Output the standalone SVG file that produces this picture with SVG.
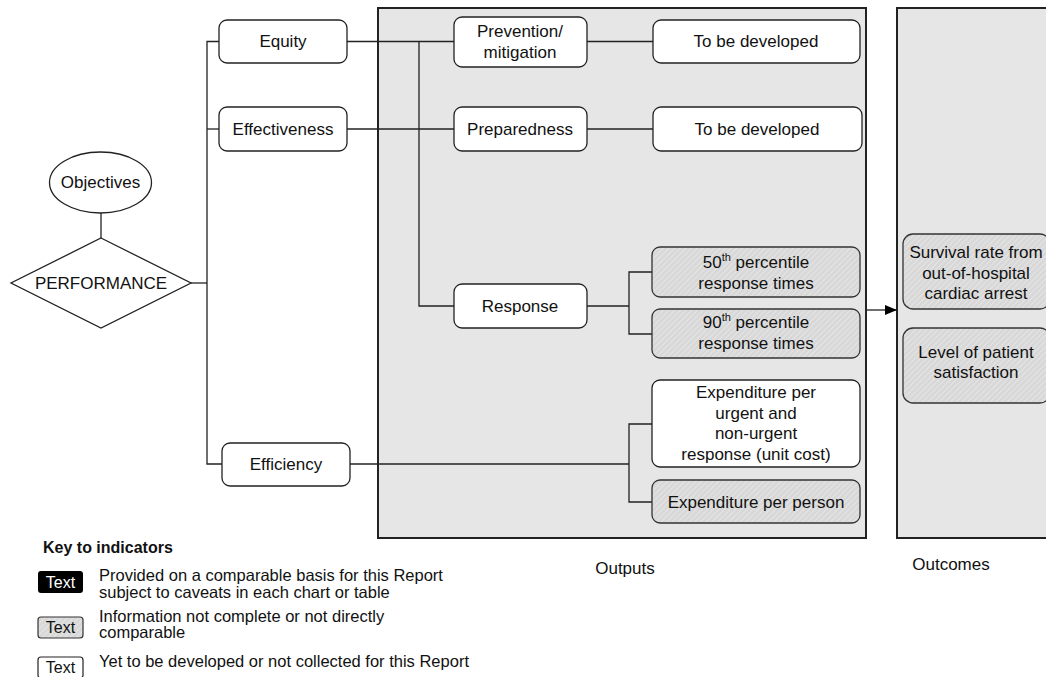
<svg xmlns="http://www.w3.org/2000/svg" width="1046" height="677" viewBox="0 0 1046 677">
<defs>
<pattern id="hatch" patternUnits="userSpaceOnUse" width="4" height="4" patternTransform="rotate(45)">
<rect width="4" height="4" fill="#d8d8d8"/>
<line x1="0" y1="0" x2="0" y2="4" stroke="#ececec" stroke-width="1.3"/>
</pattern>
<marker id="arr" markerWidth="12" markerHeight="10" refX="12" refY="5" orient="auto" markerUnits="userSpaceOnUse">
<path d="M0,0 L12,5 L0,10 Z" fill="#000"/>
</marker>
</defs>
<style>
text{font-family:"Liberation Sans",Arial,sans-serif;font-size:17px;fill:#111;text-anchor:middle}
.node{fill:#fff;stroke:#222;stroke-width:1.3}
.hat{fill:url(#hatch);stroke:#333;stroke-width:1.3}
.panel{fill:#e6e6e6;stroke:#222;stroke-width:2}
.ln{fill:none;stroke:#222;stroke-width:1.3}
.leg{font-size:16.5px;text-anchor:start}
.sup{font-size:11px}
</style>
<rect width="1046" height="677" fill="#fff"/>
<g id="panels">
<rect class="panel" x="378" y="8" width="488" height="530"/>
<rect class="panel" x="897" y="8" width="160" height="530"/>
<text x="625" y="574">Outputs</text>
<text x="951" y="570">Outcomes</text>
</g>
<g id="connectors">
<line class="ln" x1="101" y1="213" x2="101" y2="238"/>
<line class="ln" x1="191" y1="283" x2="207" y2="283"/>
<polyline class="ln" points="219,41.5 207,41.5 207,464 222,464"/>
<line class="ln" x1="207" y1="129" x2="219" y2="129"/>
<line class="ln" x1="347" y1="41.5" x2="454" y2="41.5"/>
<line class="ln" x1="347" y1="129" x2="454" y2="129"/>
<polyline class="ln" points="419,41.5 419,306 454,306"/>
<line class="ln" x1="587" y1="41.5" x2="653" y2="41.5"/>
<line class="ln" x1="587" y1="129" x2="653" y2="129"/>
<line class="ln" x1="587" y1="306" x2="629" y2="306"/>
<polyline class="ln" points="652,272 629,272 629,334 652,334"/>
<line class="ln" x1="350" y1="464" x2="629" y2="464"/>
<polyline class="ln" points="652,424 629,424 629,502 652,502"/>
<line class="ln" x1="866" y1="310" x2="897" y2="310" marker-end="url(#arr)"/>
</g>
<g id="objectives">
<ellipse class="node" cx="100.5" cy="182.5" rx="51" ry="30.5"/>
<text x="100.5" y="188">Objectives</text>
</g>
<g id="performance">
<polygon class="node" points="101,238 191,283 101,328 11,283"/>
<text x="101" y="289">PERFORMANCE</text>
</g>
<g id="equity">
<rect class="node" x="219" y="20" width="128" height="43" rx="8"/>
<text x="283" y="47">Equity</text>
</g>
<g id="effectiveness">
<rect class="node" x="219" y="107" width="128" height="44" rx="8"/>
<text x="283" y="135">Effectiveness</text>
</g>
<g id="efficiency">
<rect class="node" x="222" y="443" width="128" height="43" rx="8"/>
<text x="286" y="470">Efficiency</text>
</g>
<g id="prevention">
<rect class="node" x="454" y="17" width="133" height="50" rx="8"/>
<text x="520" y="37">Prevention/</text>
<text x="520" y="58">mitigation</text>
</g>
<g id="preparedness">
<rect class="node" x="454" y="107" width="133" height="44" rx="8"/>
<text x="520" y="135">Preparedness</text>
</g>
<g id="response">
<rect class="node" x="454" y="284" width="133" height="44" rx="8"/>
<text x="520" y="312">Response</text>
</g>
<g id="tbd1">
<rect class="node" x="653" y="20" width="207" height="43" rx="8"/>
<text x="756" y="47">To be developed</text>
</g>
<g id="tbd2">
<rect class="node" x="653" y="107" width="209" height="44" rx="8"/>
<text x="757" y="135">To be developed</text>
</g>
<g id="p50">
<rect class="hat" x="652" y="247" width="208" height="50" rx="8"/>
<text x="756" y="268">50<tspan class="sup" dy="-7">th</tspan><tspan dy="7"> percentile</tspan></text>
<text x="756" y="289">response times</text>
</g>
<g id="p90">
<rect class="hat" x="652" y="309" width="208" height="49" rx="8"/>
<text x="756" y="328">90<tspan class="sup" dy="-7">th</tspan><tspan dy="7"> percentile</tspan></text>
<text x="756" y="349">response times</text>
</g>
<g id="exp-unit">
<rect class="node" x="652" y="380" width="208" height="87" rx="8"/>
<text x="756" y="398">Expenditure per</text>
<text x="756" y="419">urgent and</text>
<text x="756" y="439">non-urgent</text>
<text x="756" y="460">response (unit cost)</text>
</g>
<g id="exp-person">
<rect class="hat" x="652" y="480" width="208" height="43" rx="8"/>
<text x="756" y="508">Expenditure per person</text>
</g>
<g id="survival">
<rect class="hat" x="903" y="234" width="147" height="75" rx="10"/>
<text x="976" y="258">Survival rate from</text>
<text x="976" y="279">out-of-hospital</text>
<text x="976" y="299">cardiac arrest</text>
</g>
<g id="satisfaction">
<rect class="hat" x="903" y="328" width="147" height="75" rx="10"/>
<text x="976" y="358">Level of patient</text>
<text x="976" y="378">satisfaction</text>
</g>
<g id="legend">
<text class="leg" x="43" y="553" style="font-weight:bold;font-size:16px">Key to indicators</text>
<rect x="38" y="571" width="45" height="22" rx="3" fill="#000"/>
<text x="60.5" y="588" style="fill:#fff;font-size:16px">Text</text>
<text class="leg" x="99" y="581">Provided on a comparable basis for this Report</text>
<text class="leg" x="99" y="598">subject to caveats in each chart or table</text>
<rect x="38" y="617" width="45" height="21" rx="3" fill="url(#hatch)" stroke="#333" stroke-width="1.2"/>
<text x="60.5" y="633" style="font-size:16px">Text</text>
<text class="leg" x="99" y="622">Information not complete or not directly</text>
<text class="leg" x="99" y="638">comparable</text>
<rect x="38" y="657" width="45" height="21" rx="3" fill="#fff" stroke="#222" stroke-width="1.2"/>
<text x="60.5" y="673" style="font-size:16px">Text</text>
<text class="leg" x="99" y="667">Yet to be developed or not collected for this Report</text>
</g>
</svg>
